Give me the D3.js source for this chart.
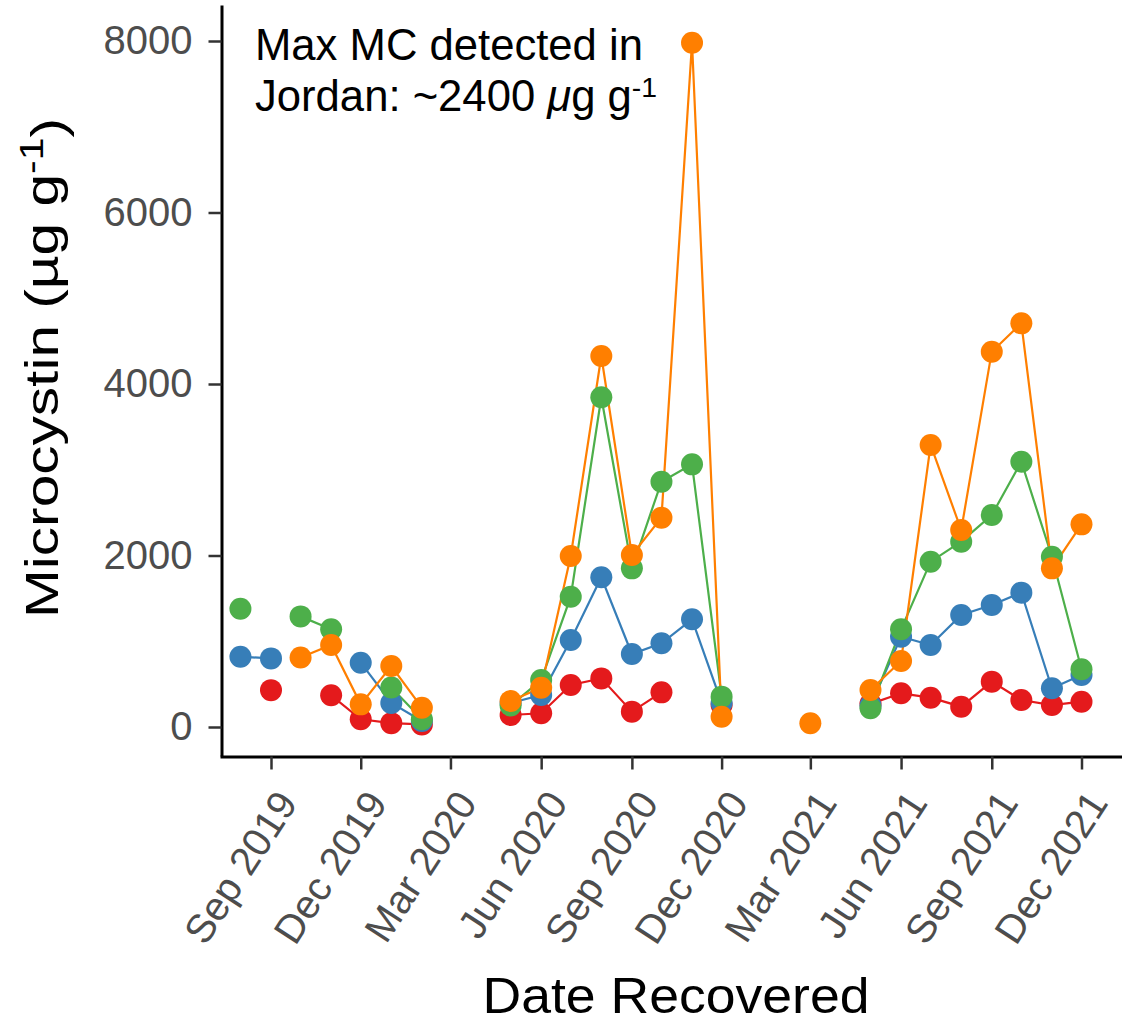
<!DOCTYPE html>
<html>
<head>
<meta charset="utf-8">
<script src="https://cdn.jsdelivr.net/npm/d3@7"></script>
<style>
  body { margin: 0; background: #fff; }
  text { font-family: "Liberation Sans", Arial, sans-serif; }
</style>
</head>
<body>
<svg id="chart" width="1122" height="1023"></svg>
<script>
// monthly sampling dates (first of month)
var months = ["2019-08", "2019-09", "2019-10", "2019-11", "2019-12", "2020-01", "2020-02",
              "2020-03", "2020-04", "2020-05", "2020-06", "2020-07", "2020-08", "2020-09",
              "2020-10", "2020-11", "2020-12", "2021-01", "2021-02", "2021-03", "2021-04",
              "2021-05", "2021-06", "2021-07", "2021-08", "2021-09", "2021-10", "2021-11", "2021-12"];

// microcystin (ug/g), null = not sampled
var redVals    = [null, 430, null, 370, 90, 45, 30, null, null, 140, 160, 490, 567, 179, 404, null, 256,
                  null, null, null, null, 270, 393, 342, 237, 529, 315, 256, 295];
var blueVals   = [820, 800, null, null, 750, 280, 70, null, null, 280, 373, 1015, 1746, 851, 976, 1256, 280,
                  null, null, null, null, 250, 1053, 956, 1306, 1423, 1567, 451, 606];
var greenVals  = [1380, null, 1290, 1140, null, 460, 90, null, null, 250, 548, 1520, 3845, 1850, 2861, 3063, 354,
                  null, null, null, null, 218, 1139, 1928, 2161, 2472, 3094, 1986, 673];
var orangeVals = [null, null, 810, 956, 264, 711, 225, null, null, 303, 458, 1994, 4327, 2006, 2441, 7980, 120,
                  null, null, 43, null, 431, 770, 3289, 2297, 4377, 4707, 1850, 2363];

var seriesNames = ["red", "blue", "green", "orange"];
var seriesColors = ["#E41A1C", "#377EB8", "#4DAF4A", "#FF7F00"];

var tickMonths = ["2019-09", "2019-12", "2020-03", "2020-06", "2020-09", "2020-12",
                  "2021-03", "2021-06", "2021-09", "2021-12"];
var yTicks = [0, 2000, 4000, 6000, 8000];

var parse = d3.timeParse("%Y-%m");
var svg = d3.select("#chart");

var x = d3.scaleTime()
    .domain([parse("2019-09"), parse("2021-12")])
    .range([271, 1081.5]);
x.domain([x.invert(220), x.invert(1122)]).range([220, 1122]);

var y = d3.scaleLinear()
    .domain([0, 8000])
    .range([727, 41]);
y.domain([y.invert(756), y.invert(5)]).range([756, 5]);

var z = d3.scaleOrdinal().domain(seriesNames).range(seriesColors);

var allVals = [redVals, blueVals, greenVals, orangeVals];
var series = seriesNames.map(function(name, i) {
  return {
    key: name,
    values: months.map(function(m, j) { return {date: parse(m), v: allVals[i][j]}; })
  };
});

var line = d3.line()
    .defined(function(d) { return d.v != null; })
    .x(function(d) { return x(d.date); })
    .y(function(d) { return y(d.v); });

// lines first, then points (ggplot order)
svg.append("g").selectAll("path")
  .data(series)
  .enter().append("path")
    .attr("fill", "none")
    .attr("stroke", function(d) { return z(d.key); })
    .attr("stroke-width", 2.2)
    .attr("d", function(d) { return line(d.values); });

svg.append("g").selectAll("g")
  .data(series)
  .enter().append("g")
    .attr("fill", function(d) { return z(d.key); })
  .selectAll("circle")
  .data(function(d) { return d.values.filter(function(p) { return p.v != null; }); })
  .enter().append("circle")
    .attr("cx", function(d) { return x(d.date); })
    .attr("cy", function(d) { return y(d.v); })
    .attr("r", 11);

// axes
var yAxis = svg.append("g")
    .attr("transform", "translate(221.5,0)")
    .call(d3.axisLeft(y).tickValues(yTicks).tickFormat(d3.format("d"))
      .tickSize(13).tickPadding(16).tickSizeOuter(0));

var xAxis = svg.append("g")
    .attr("transform", "translate(0,756.5)")
    .call(d3.axisBottom(x)
      .tickValues(tickMonths.map(parse))
      .tickFormat(d3.timeFormat("%b %Y"))
      .tickSize(13).tickSizeOuter(0));

[yAxis, xAxis].forEach(function(a) {
  a.select(".domain").attr("stroke", "#000").attr("stroke-width", 3);
  a.selectAll(".tick line").attr("stroke", "#333").attr("stroke-width", 2.5);
  a.selectAll(".tick text")
    .attr("fill", "#4d4d4d")
    .attr("font-size", 40)
    .attr("font-family", "'Liberation Sans', Arial, sans-serif");
});

xAxis.selectAll(".tick text")
    .attr("x", 0)
    .attr("y", 0)
    .attr("dy", "0.72em")
    .attr("text-anchor", "end")
    .attr("transform", "translate(3,31) rotate(-57)");

// axis titles
svg.append("text")
    .attr("x", 676)
    .attr("y", 1013)
    .attr("text-anchor", "middle")
    .attr("font-size", 50)
    .attr("textLength", 387)
    .attr("lengthAdjust", "spacingAndGlyphs")
    .attr("fill", "#000")
    .text("Date Recovered");

var yTitle = svg.append("text")
    .attr("transform", "translate(58,368) rotate(-90)")
    .attr("text-anchor", "middle")
    .attr("font-size", 47)
    .attr("textLength", 500)
    .attr("lengthAdjust", "spacingAndGlyphs")
    .attr("fill", "#000");
yTitle.append("tspan").text("Microcystin (\u00b5g g");
yTitle.append("tspan").attr("dy", "-0.45em").attr("font-size", "0.7em").text("-1");
yTitle.append("tspan").attr("dy", "0.45em").text(")");

// annotation
var note = svg.append("g").attr("font-family", "Lato, 'Open Sans', sans-serif").attr("fill", "#000");
var l1 = note.append("text").attr("x", 255).attr("y", 60).attr("font-size", 40).text("Max MC detected in");
var l2 = note.append("text").attr("x", 255).attr("y", 111).attr("font-size", 40);
l2.append("tspan").text("Jordan: ~2400 ");
l2.append("tspan").attr("font-style", "italic").text("\u03bc");
l2.append("tspan").text("g g");
l2.append("tspan").attr("dy", "-0.5em").attr("font-size", "0.65em").text("-1");

var fs = 40 * 388 / l1.node().getComputedTextLength();
l1.attr("font-size", fs);
l2.attr("font-size", fs);
</script>
</body>
</html>
